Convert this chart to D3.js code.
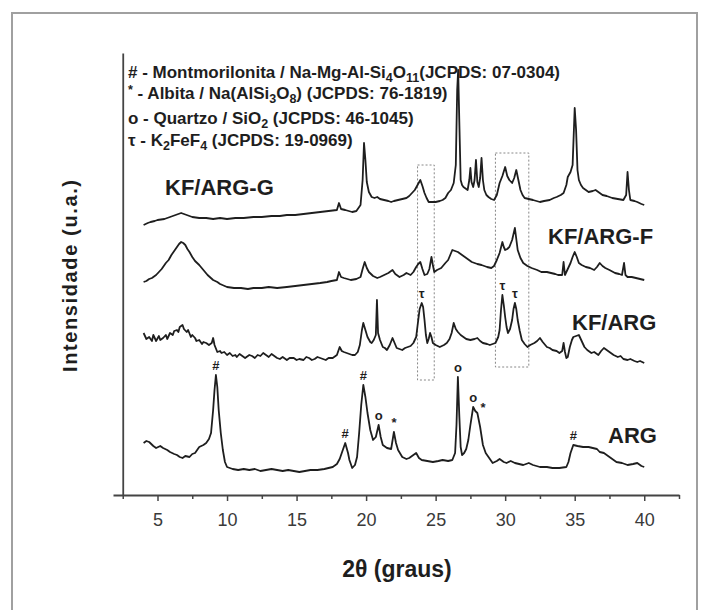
<!DOCTYPE html>
<html>
<head>
<meta charset="utf-8">
<script src="https://cdn.jsdelivr.net/npm/d3@7/dist/d3.min.js"></script>
<style>
  body { margin: 0; background: #fff; }
  svg { display: block; }
  text { font-family: "Liberation Sans", Arial, sans-serif; }
</style>
</head>
<body>
<svg id="chart" width="705" height="610"></svg>
<script>
// ---- Diffractograms: [2θ (graus), intensidade (u.a.)] ----
const ARG = [[4.0,52],[4.2,54],[4.4,53],[4.7,49],[4.9,47],[5.2,49],[5.4,47],[5.7,45],[5.9,43],[6.2,41],[6.4,40],[6.6,38],[6.8,37],[7.0,39],[7.3,38],[7.5,41],[7.7,42],[8.0,48],[8.3,50],[8.5,52],[8.7,56],[8.85,62],[9.0,85],[9.1,105],[9.2,120],[9.3,108],[9.4,85],[9.55,62],[9.7,45],[9.85,33],[10.0,28],[10.4,26],[10.8,25],[11.2,26],[11.6,25],[12.0,26],[12.4,24],[12.8,25],[13.2,26],[13.6,25],[14.0,24],[14.4,25],[14.8,24],[15.2,23],[15.6,24],[16.0,25],[16.5,25],[17.0,26],[17.3,27],[17.6,28],[17.9,31],[18.1,36],[18.3,44],[18.5,52],[18.7,42],[18.8,35],[19.0,27],[19.2,30],[19.35,38],[19.5,62],[19.65,90],[19.8,110],[19.95,98],[20.1,82],[20.3,65],[20.5,55],[20.7,58],[20.9,70],[21.05,58],[21.2,50],[21.5,47],[21.8,46],[22.0,63],[22.15,52],[22.3,45],[22.6,38],[22.9,36],[23.1,37],[23.4,40],[23.6,42],[23.8,37],[24.0,35],[24.4,34],[24.8,33],[25.2,34],[25.5,35],[25.9,34],[26.2,35],[26.4,42],[26.5,70],[26.6,118],[26.7,80],[26.8,48],[26.9,40],[27.05,42],[27.2,46],[27.35,55],[27.5,70],[27.7,88],[27.85,84],[28.0,82],[28.2,68],[28.4,50],[28.6,42],[28.8,38],[29.1,32],[29.4,34],[29.6,36],[29.9,33],[30.1,32],[30.4,34],[30.7,32],[31.0,31],[31.3,30],[31.7,32],[32.0,30],[32.5,28],[33.0,28],[33.4,27],[33.9,27],[34.4,28],[34.55,33],[34.7,42],[34.9,50],[35.2,49],[35.6,48],[36.0,48],[36.3,47],[36.6,46],[36.8,43],[37.1,42],[37.3,40],[37.7,36],[38.0,33],[38.4,32],[38.8,30],[39.2,31],[39.5,32],[39.8,29],[40.0,28]];

const KF_ARG = [[4.0,52],[4.2,46],[4.4,48],[4.6,44],[4.7,50],[4.9,44],[5.1,49],[5.2,45],[5.4,47],[5.6,50],[5.7,46],[5.9,52],[6.1,50],[6.2,54],[6.4,55],[6.5,53],[6.6,58],[6.8,60],[6.9,56],[7.1,53],[7.2,55],[7.4,48],[7.5,50],[7.7,47],[7.8,44],[8.0,45],[8.2,41],[8.3,43],[8.5,42],[8.7,40],[8.9,42],[9.0,47],[9.1,40],[9.3,33],[9.5,34],[9.6,32],[9.8,33],[10.0,30],[10.2,32],[10.4,29],[10.6,30],[10.7,28],[10.9,31],[11.1,29],[11.3,27],[11.4,28],[11.6,30],[11.8,29],[12.0,27],[12.2,30],[12.4,29],[12.6,32],[12.8,30],[13.0,28],[13.2,31],[13.4,29],[13.6,27],[13.8,26],[14.0,28],[14.3,25],[14.5,27],[14.8,27],[15.0,25],[15.2,26],[15.5,25],[15.7,28],[15.9,27],[16.1,25],[16.3,26],[16.5,28],[16.7,27],[16.9,26],[17.1,25],[17.3,27],[17.6,27],[17.9,30],[18.1,38],[18.25,34],[18.4,33],[18.6,32],[18.8,31],[19.0,30],[19.2,30],[19.4,33],[19.55,40],[19.7,55],[19.8,62],[19.95,55],[20.1,48],[20.3,43],[20.4,42],[20.55,45],[20.7,50],[20.78,85],[20.86,52],[21.0,45],[21.2,38],[21.35,37],[21.5,35],[21.7,40],[21.9,47],[22.05,42],[22.2,37],[22.4,36],[22.6,35],[22.8,37],[23.0,38],[23.2,39],[23.4,42],[23.6,48],[23.75,65],[23.85,76],[24.0,82],[24.1,78],[24.2,65],[24.3,50],[24.4,42],[24.5,46],[24.6,52],[24.7,48],[24.8,42],[25.0,40],[25.3,38],[25.6,40],[25.8,42],[26.0,46],[26.15,52],[26.3,62],[26.45,56],[26.6,53],[26.8,50],[27.0,48],[27.2,46],[27.5,45],[27.8,46],[28.0,47],[28.2,44],[28.4,42],[28.7,41],[28.9,40],[29.1,41],[29.3,42],[29.5,48],[29.6,55],[29.7,75],[29.8,90],[29.9,80],[30.0,68],[30.1,58],[30.2,52],[30.35,56],[30.5,65],[30.6,76],[30.7,82],[30.8,76],[30.9,65],[31.05,54],[31.2,45],[31.4,41],[31.6,38],[31.8,40],[32.1,42],[32.3,44],[32.5,47],[32.7,43],[33.0,38],[33.2,37],[33.4,35],[33.7,34],[33.9,32],[34.1,34],[34.2,42],[34.3,33],[34.4,27],[34.5,28],[34.65,38],[34.8,45],[34.9,48],[35.1,49],[35.3,50],[35.5,44],[35.7,38],[35.9,35],[36.2,32],[36.4,33],[36.7,30],[36.9,34],[37.1,37],[37.3,35],[37.6,32],[37.8,30],[38.1,28],[38.3,29],[38.5,26],[38.8,25],[39.0,26],[39.3,24],[39.5,23],[39.7,24],[40.0,22]];

const KF_ARG_F = [[4.0,23],[4.2,24],[4.4,26],[4.6,27],[4.7,28],[4.9,30],[5.1,33],[5.3,36],[5.4,38],[5.6,42],[5.8,45],[6.0,50],[6.1,52],[6.3,56],[6.4,58],[6.55,61],[6.7,63],[6.85,62],[7.0,60],[7.15,56],[7.3,53],[7.5,48],[7.7,44],[8.0,40],[8.3,35],[8.6,30],[9.0,25],[9.3,23],[9.5,21],[10.0,18],[10.5,17],[11.0,17],[11.5,16],[11.9,17],[12.5,17],[13.0,18],[13.6,17],[14.3,18],[14.9,19],[15.5,20],[16.1,21],[16.7,22],[17.2,23],[17.5,24],[17.9,25],[18.05,33],[18.2,28],[18.4,27],[18.9,25],[19.3,26],[19.6,28],[19.75,36],[19.9,43],[20.05,37],[20.2,33],[20.5,29],[20.8,27],[21.0,28],[21.3,30],[21.6,32],[21.9,35],[22.1,31],[22.4,28],[22.7,30],[22.9,32],[23.2,30],[23.4,33],[23.6,38],[23.75,41],[23.9,43],[24.05,36],[24.2,30],[24.4,31],[24.55,36],[24.7,48],[24.8,40],[24.9,33],[25.1,35],[25.4,37],[25.7,42],[25.9,45],[26.05,50],[26.2,55],[26.4,54],[26.6,53],[26.9,50],[27.1,48],[27.4,45],[27.6,43],[28.0,41],[28.3,40],[28.7,38],[29.0,37],[29.2,39],[29.4,45],[29.6,52],[29.8,63],[29.9,58],[30.0,55],[30.15,56],[30.3,58],[30.5,65],[30.7,77],[30.8,66],[30.9,55],[31.1,47],[31.3,42],[31.6,39],[31.9,37],[32.3,35],[32.6,33],[33.0,33],[33.3,32],[33.6,31],[33.8,30],[34.1,30],[34.2,43],[34.3,30],[34.5,36],[34.7,42],[34.85,48],[35.0,53],[35.15,48],[35.3,42],[35.5,40],[35.8,38],[36.1,37],[36.4,35],[36.6,38],[36.8,42],[37.0,39],[37.2,37],[37.5,35],[37.9,32],[38.2,31],[38.4,30],[38.55,42],[38.65,30],[38.8,28],[39.1,28],[39.4,27],[39.7,26],[40.0,25]];

const KF_ARG_G = [[4.0,15],[4.3,17],[4.5,18],[4.8,19],[5.0,20],[5.5,21],[5.9,23],[6.3,25],[6.7,27],[7.1,25],[7.5,23],[8.0,22],[8.5,22],[9.0,21],[9.5,22],[10.0,21],[10.6,22],[11.2,22],[11.9,23],[12.5,23],[13.2,24],[13.8,24],[14.3,25],[14.9,25],[15.5,26],[16.1,27],[16.7,28],[17.3,29],[17.9,30],[18.05,37],[18.2,31],[18.5,30],[19.0,28],[19.3,29],[19.6,35],[19.75,60],[19.85,97],[19.95,80],[20.05,58],[20.2,48],[20.4,43],[20.6,42],[20.8,43],[21.0,41],[21.3,40],[21.6,39],[21.8,38],[22.0,39],[22.3,40],[22.6,41],[22.9,42],[23.1,44],[23.3,47],[23.5,50],[23.7,55],[23.9,60],[24.05,54],[24.2,47],[24.35,42],[24.5,38],[24.8,38],[25.0,38],[25.3,39],[25.5,40],[25.7,42],[25.9,47],[26.1,50],[26.3,57],[26.45,75],[26.55,150],[26.62,170],[26.7,120],[26.8,60],[26.9,55],[27.0,53],[27.2,51],[27.3,50],[27.42,60],[27.5,72],[27.58,58],[27.7,53],[27.8,60],[27.9,80],[28.0,58],[28.1,53],[28.2,62],[28.3,82],[28.4,60],[28.5,50],[28.65,45],[28.8,43],[29.0,41],[29.2,40],[29.4,45],[29.6,57],[29.8,64],[30.0,73],[30.15,64],[30.3,60],[30.5,57],[30.65,62],[30.8,70],[30.95,60],[31.1,50],[31.25,45],[31.4,42],[31.7,41],[32.0,40],[32.5,38],[32.8,39],[33.2,40],[33.5,42],[33.7,43],[34.0,45],[34.2,47],[34.4,55],[34.5,63],[34.7,68],[34.85,75],[35.0,132],[35.1,110],[35.2,70],[35.3,60],[35.45,55],[35.6,52],[35.8,50],[36.0,48],[36.3,49],[36.5,50],[36.7,48],[37.0,45],[37.3,44],[37.7,42],[38.1,41],[38.5,40],[38.7,45],[38.8,68],[38.9,50],[39.0,40],[39.3,39],[39.5,38],[39.8,36],[40.0,35]];

// Sample names, patterns and vertical stacking offsets (u.a.)
const sampleNames = ["ARG", "KF/ARG", "KF/ARG-F", "KF/ARG-G"];
const samplePatterns = [ARG, KF_ARG, KF_ARG_F, KF_ARG_G];
const sampleOffsets = [0, 110, 190, 255];

// Phase markers on ARG and KF/ARG
const argPeakTheta  = [9.2, 18.5, 19.8, 20.9, 22.0, 26.6, 27.7, 28.05, 34.9];
const argPeakSymbol = ["#", "#", "#", "o", "*", "o", "o", "*", "#"];
const kfPeakTheta   = [24.0, 29.8, 30.7];
const kfPeakSymbol  = ["τ", "τ", "τ"];

// Dotted boxes around the K2FeF4 reflections: 2θ range and intensity range
const boxTheta = [[23.7, 24.9], [29.3, 31.7]];
const boxInt   = [[115, 330], [128, 342]];

// Axis ticks
const majorTicks = [5, 10, 15, 20, 25, 30, 35, 40];
const minorTicks = [2.5, 7.5, 12.5, 17.5, 22.5, 27.5, 32.5, 37.5, 42.5];

// Legend lines: [text, role] parts
const legendLines = [
  [["# - Montmorilonita / Na-Mg-Al-Si", ""], ["4", "sub"], ["O", ""], ["11", "sub"], ["(JCPDS: 07-0304)", ""]],
  [["*", "sup"], [" - Albita / Na(AlSi", ""], ["3", "sub"], ["O", ""], ["8", "sub"], [") (JCPDS: 76-1819)", ""]],
  [["o - Quartzo / SiO", ""], ["2", "sub"], [" (JCPDS: 46-1045)", ""]],
  [["τ - K", ""], ["2", "sub"], ["FeF", ""], ["4", "sub"], [" (JCPDS: 19-0969)", ""]]
];

// ---- Drawing ----
const svg = d3.select("#chart");
const ink = "#1e1e1e";

// outer frame
svg.append("rect")
  .attr("x", 12).attr("y", 13).attr("width", 685).attr("height", 610)
  .attr("fill", "none").attr("stroke", "#a0a0a0").attr("stroke-width", 2);

const x = d3.scaleLinear().domain([1.8, 42.5]).range([113, 679]);
const y = d3.scaleLinear().domain([0, 442]).range([495, 53]);

// x axis: major ticks with labels, minor ticks without
const xAxis = svg.append("g").attr("transform", "translate(0,495)")
  .call(d3.axisBottom(x).tickValues(majorTicks).tickSize(6).tickSizeOuter(0).tickPadding(12).tickFormat(d3.format("d")));
xAxis.select(".domain").attr("stroke", "#444").attr("stroke-width", 1.8);
xAxis.selectAll(".tick line").attr("stroke", "#444").attr("stroke-width", 1.5);
xAxis.selectAll(".tick text").attr("font-size", 18).attr("fill", "#3a3a3a")
  .attr("font-family", "Liberation Sans, Arial, sans-serif");

const xMinor = svg.append("g").attr("transform", "translate(0,495)")
  .call(d3.axisBottom(x).tickValues(minorTicks).tickSize(4).tickSizeOuter(0).tickFormat(""));
xMinor.select(".domain").remove();
xMinor.selectAll(".tick line").attr("stroke", "#444").attr("stroke-width", 1.5);

// y axis: plain line at 2θ = 2.5
const yAxis = svg.append("g").attr("transform", `translate(${x(2.5)},0)`)
  .call(d3.axisLeft(y).tickValues([]).tickSizeOuter(0));
yAxis.select(".domain").attr("stroke", "#444").attr("stroke-width", 1.8);

// axis titles
svg.append("text")
  .attr("x", 397).attr("y", 577)
  .attr("text-anchor", "middle").attr("font-size", 23).attr("font-weight", "bold").attr("fill", ink)
  .text("2θ (graus)");

svg.append("text")
  .attr("transform", "translate(77,276) rotate(-90)")
  .attr("text-anchor", "middle").attr("font-size", 20).attr("fill", ink)
  .attr("font-weight", "bold")
  .attr("textLength", 192).attr("lengthAdjust", "spacing")
  .text("Intensidade (u.a.)");

// dotted boxes
boxTheta.forEach((r, i) => {
  svg.append("rect")
    .attr("x", x(r[0])).attr("y", y(boxInt[i][1]))
    .attr("width", x(r[1]) - x(r[0])).attr("height", y(boxInt[i][0]) - y(boxInt[i][1]))
    .attr("fill", "none").attr("stroke", "#888").attr("stroke-width", 1)
    .attr("stroke-dasharray", "2,2");
});

// patterns
const line = d3.line().x(d => x(d[0]));
samplePatterns.forEach((pat, i) => {
  const off = sampleOffsets[i];
  svg.append("path")
    .datum(pat)
    .attr("d", line.y(d => y(d[1] + off)))
    .attr("fill", "none").attr("stroke", ink).attr("stroke-width", 1.8)
    .attr("stroke-linejoin", "round");
});

// sample labels
const labelPos = { "KF/ARG-G": [165, 195], "KF/ARG-F": [548, 244], "KF/ARG": [572, 330], "ARG": [608, 443] };
sampleNames.forEach(n => {
  svg.append("text")
    .attr("x", labelPos[n][0]).attr("y", labelPos[n][1])
    .attr("font-size", 22).attr("font-weight", "bold").attr("fill", ink)
    .text(n);
});

// phase markers placed above the local maximum of the pattern
function peakValue(pat, t) {
  return d3.max(pat.filter(d => Math.abs(d[0] - t) <= 0.12), d => d[1]);
}
function drawMarkers(pat, off, thetas, symbols) {
  thetas.forEach((t, i) => {
    const side = symbols[i] === "*" && t > 28 ? 5 : 0;
    const gap = side ? 1 : 5;
    svg.append("text")
      .attr("x", x(t) + side).attr("y", y(peakValue(pat, t) + off) - gap)
      .attr("text-anchor", "middle")
      .attr("font-size", 13).attr("font-weight", "bold").attr("fill", ink)
      .text(symbols[i]);
  });
}
drawMarkers(ARG, sampleOffsets[0], argPeakTheta, argPeakSymbol);
drawMarkers(KF_ARG, sampleOffsets[1], kfPeakTheta, kfPeakSymbol);

// legend
const legendBase = [78, 99, 124, 146];
legendLines.forEach((parts, i) => {
  const t = svg.append("text")
    .attr("x", 128).attr("y", legendBase[i])
    .attr("font-size", 17).attr("font-weight", "bold").attr("fill", ink);
  let shift = 0;
  parts.forEach(([s, role]) => {
    const target = role === "sub" ? 4 : role === "sup" ? -5 : 0;
    t.append("tspan")
      .attr("dy", target - shift)
      .attr("font-size", role ? 12.5 : 17)
      .text(s);
    shift = target;
  });
});
</script>
</body>
</html>
